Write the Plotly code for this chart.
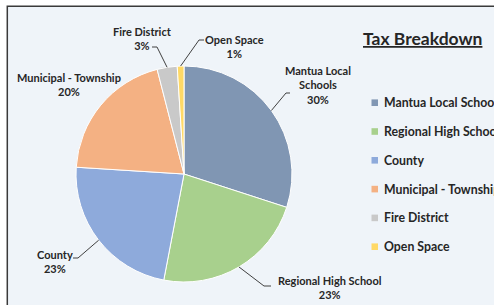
import math
import plotly.graph_objects as go

# ---- data ----
labels = ["Mantua Local Schools", "Regional High School", "County",
          "Municipal - Township", "Fire District", "Open Space"]
slice_label_names = ["Mantua Local<br>Schools", "Regional High School", "County",
                     "Municipal - Township", "Fire District", "Open Space"]
values = [30, 23, 23, 20, 3, 1]
colors = ["#8096b3", "#a8d08d", "#8eaadb", "#f4b183", "#c9c9c9", "#ffd966"]
title_text = "Tax Breakdown"

W, H = 494, 305
FONT = "Lato"
TXT = "#262626"

def px(x):  # page pixel -> paper
    return x / W

def py(y):
    return 1 - y / H

# pie geometry (pixels)
cx, cy, r = 184, 174, 108

fig = go.Figure()
fig.add_trace(go.Pie(
    labels=labels, values=values, sort=False, direction="clockwise", rotation=0,
    marker=dict(colors=colors, line=dict(color="white", width=1)),
    textinfo="none", hoverinfo="label+percent", showlegend=False,
    domain=dict(x=[px(cx - r), px(cx + r)], y=[py(cy + r), py(cy - r)]),
))

total = sum(values)
cum = 0
mid_pts = []
for v in values:
    mid = (cum + v / 2) / total * 2 * math.pi
    mid_pts.append((cx + r * math.sin(mid), cy - r * math.cos(mid)))
    cum += v

# label placement (pixels): center x, center y, leader hook points
label_pos = [
    (318, 84.5, [(290, 93), (286, 93)]),
    (330, 287, [(271, 286), (264, 286)]),
    (55, 261, [(73, 258), (78, 258)]),
    (69, 85, None),
    (142.5, 38, [(152, 47), (157, 47)]),
    (234, 47, [(204, 40), (199, 40)]),
]

annotations = []
shapes = [dict(type="rect", xref="paper", yref="paper", layer="below",
               x0=px(7.3), x1=1.05, y0=-0.05, y1=py(6.3),
               line=dict(color="#3a3a3a", width=1.5), fillcolor="#eff4f9")]

for i, (name, v) in enumerate(zip(slice_label_names, values)):
    lx, ly, hook = label_pos[i]
    pct = f"{v / total * 100:.0f}%"
    annotations.append(dict(
        x=px(lx), y=py(ly), xref="paper", yref="paper", showarrow=False,
        xanchor="center", yanchor="middle", align="center",
        text=f"<b>{name}<br>{pct}</b>",
        font=dict(family=FONT, size=11, color=TXT)))
    if hook:
        ex, ey = mid_pts[i]
        pts = hook + [(ex, ey)]
        path = "M " + " L ".join(f"{px(a)},{py(b)}" for a, b in pts)
        shapes.append(dict(type="path", xref="paper", yref="paper", path=path,
                           line=dict(color="#404040", width=1)))

# manual legend
for i, (name, c) in enumerate(zip(labels, colors)):
    ry = 102.7 + i * 28.8
    shapes.append(dict(type="rect", xref="paper", yref="paper",
                       x0=px(371.5), x1=px(378), y0=py(ry + 3.3), y1=py(ry - 3.3),
                       line=dict(width=0), fillcolor=c))
    annotations.append(dict(
        x=px(381.5), y=py(ry), xref="paper", yref="paper", showarrow=False,
        xanchor="left", yanchor="middle", text=f"<b>{name}</b>",
        font=dict(family=FONT, size=12.3, color=TXT)))

annotations.append(dict(
    x=px(360.5), y=py(38), xref="paper", yref="paper", showarrow=False,
    xanchor="left", yanchor="middle", text=f"<b><u>{title_text}</u></b>",
    font=dict(family=FONT, size=17.5, color=TXT)))

fig.update_layout(
    width=W, height=H, margin=dict(l=0, r=0, t=0, b=0),
    paper_bgcolor="white", plot_bgcolor="white",
    annotations=annotations, shapes=shapes,
)

fig.write_html(
    "out.html",
    config={"displayModeBar": False},
    post_script="document.body.style.margin='0';document.body.style.overflow='hidden';",
)
